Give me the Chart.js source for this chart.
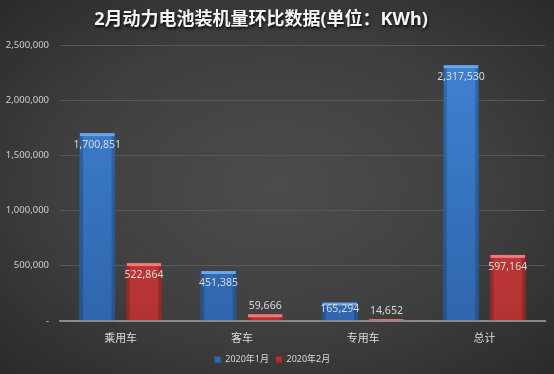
<!DOCTYPE html>
<html>
<head>
<meta charset="utf-8">
<script src="https://cdn.jsdelivr.net/npm/chart.js@4"></script>
<style>
	html, body { margin: 0; padding: 0; }
	body {
		width: 554px; height: 374px; overflow: hidden;
		background: radial-gradient(ellipse at 50% 50%, #4c4c4c 0%, #3f3f3f 55%, #2a2a2a 100%);
	}
	#wrap { position: relative; width: 554px; height: 374px; }
</style>
</head>
<body>
<div id="wrap"><canvas id="myChart" width="554" height="374"></canvas></div>
<script>
const categories = ['乘用车', '客车', '专用车', '总计'];
const seriesNames = ['2020年1月', '2020年2月'];
const janValues = [1700851, 451385, 165294, 2317530];
const febValues = [522864, 59666, 14652, 597164];
const yTicks = [0, 500000, 1000000, 1500000, 2000000, 2500000];
const titleText = '2月动力电池装机量环比数据(单位：KWh)';

const FONT = "'Noto Sans', 'Noto Sans CJK SC', sans-serif";

function fmt(v) {
	if (v === 0) return '-';
	return v.toLocaleString('en-US');
}

// bar fill with a slight vertical shade
function barFill(light, dark) {
	return function (ctx) {
		const area = ctx.chart.chartArea;
		if (!area) return light;
		const g = ctx.chart.ctx.createLinearGradient(0, area.top, 0, area.bottom);
		g.addColorStop(0, light);
		g.addColorStop(1, dark);
		return g;
	};
}

// title with a soft shadow
const shadowTitle = {
	id: 'shadowTitle',
	afterDraw(chart) {
		const c = chart.ctx;
		c.save();
		c.font = 'bold 18px ' + FONT;
		c.fillStyle = '#f4f4f4';
		c.textAlign = 'center';
		c.textBaseline = 'middle';
		c.shadowColor = 'rgba(0,0,0,0.8)';
		c.shadowBlur = 3;
		c.shadowOffsetX = 1;
		c.shadowOffsetY = 2;
		c.fillText(titleText, 261, 20);
		c.restore();
	}
};

// bevel edges + value labels
const barLabels = {
	id: 'barLabels',
	afterDatasetsDraw(chart) {
		const c = chart.ctx;
		chart.data.datasets.forEach((ds, i) => {
			const meta = chart.getDatasetMeta(i);
			meta.data.forEach((bar, j) => {
				const w = bar.width;
				const left = bar.x - w / 2;
				const h = bar.base - bar.y;
				c.save();
				// darker sides
				c.fillStyle = 'rgba(0,0,0,0.18)';
				c.fillRect(left + 1, bar.y, 3, h);
				c.fillRect(left + w - 4, bar.y, 3, h);
				// light top
				c.fillStyle = ds.topColor;
				c.fillRect(left + 1, bar.y, w - 2, Math.min(3, h));
				c.restore();

				c.save();
				c.font = '10.5px ' + FONT;
				c.fillStyle = '#d8d8d8';
				c.textAlign = 'center';
				c.textBaseline = 'middle';
				const y = h > 12 ? bar.y + Math.min(12, h * 0.36) : bar.y - 8;
				c.fillText(fmt(ds.data[j]), bar.x, y);
				c.restore();
			});
		});
	}
};

new Chart(document.getElementById('myChart'), {
	type: 'bar',
	data: {
		labels: categories,
		datasets: [{
			label: seriesNames[0],
			data: janValues,
			backgroundColor: barFill('#3f83d3', '#2f66ad'),
			borderColor: '#2a5793',
			borderWidth: 1,
			topColor: '#6aa6ec'
		}, {
			label: seriesNames[1],
			data: febValues,
			backgroundColor: barFill('#d94444', '#b23232'),
			borderColor: '#8f2626',
			borderWidth: 1,
			topColor: '#f07a7a'
		}]
	},
	options: {
		responsive: false,
		animation: false,
		layout: { padding: { left: 0, right: 9, top: 45, bottom: 0 } },
		datasets: {
			bar: { categoryPercentage: 0.77, barPercentage: 0.78 }
		},
		scales: {
			x: {
				grid: { display: false },
				border: { color: '#8a8a8a', width: 2 },
				ticks: { color: '#dcdcdc', font: { family: FONT, size: 11 }, padding: 3 }
			},
			y: {
				min: 0,
				max: 2500000,
				afterBuildTicks(axis) {
					axis.ticks = yTicks.map(v => ({ value: v }));
				},
				grid: { color: '#585858', lineWidth: 1, drawTicks: false },
				border: { display: false },
				ticks: {
					color: '#cfcfcf',
					font: { family: FONT, size: 9.5 },
					padding: 11,
					callback: v => fmt(v)
				},
				afterFit(axis) { axis.width = 60; }
			}
		},
		plugins: {
			title: { display: false },
			legend: {
				position: 'bottom',
				labels: {
					color: '#d8d8d8',
					font: { family: FONT, size: 9 },
					boxWidth: 6,
					boxHeight: 6,
					padding: 7
				}
			},
			tooltip: { enabled: false }
		}
	},
	plugins: [barLabels, shadowTitle]
});
</script>
</body>
</html>
